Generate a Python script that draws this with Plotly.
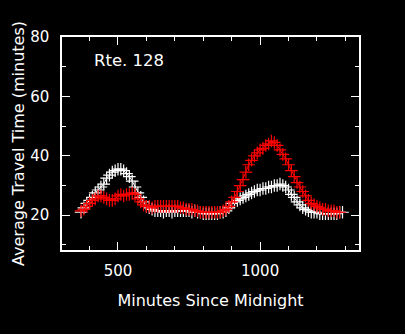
import plotly.graph_objects as go

minutes = list(range(370, 1300, 10))

white_tt = [21, 22.5, 24, 25, 26, 27.5, 28.5, 29.5, 30.5, 32.5,
            33.5, 34.5, 35, 35.5, 35.5, 35, 34, 33, 31.5, 29.5,
            27.5, 26, 24.5, 23, 22.5, 22, 21.5, 21.5, 21.5, 21,
            21.5, 21.5, 21, 21.5, 21.5, 21.5, 21.5, 21.5, 21.5, 21,
            21.5, 21, 21, 20.5, 20.5, 20.5, 20.5, 20.5, 20.5, 21,
            21, 21.5, 22.5, 24, 24.5, 25, 25.5, 26, 26.5, 27,
            27.5, 28, 28.5, 28.5, 29, 29, 29.5, 29.5, 30, 30,
            30.5, 30, 29.5, 28.5, 27, 26, 24.5, 23.5, 22.5, 22,
            21.5, 21, 21, 21, 20.5, 20.5, 20.5, 20.5, 20.5, 20.5,
            20.5, 21, 21]

red_tt = [21.5, 22, 23, 24, 25, 25.5, 26.5, 26.5, 26, 25.5,
          25, 25, 25.5, 26.5, 27, 26.5, 27, 27, 27.5, 27,
          25.5, 24.5, 23.5, 23, 23, 22.5, 23, 23, 23, 23,
          23, 23, 23, 23, 23, 22.5, 22.5, 22, 22, 22,
          21.5, 21.5, 21, 21, 21, 21, 21, 21, 21, 21,
          21.5, 22, 23, 24.5, 26, 28, 30, 32, 34.5, 37,
          38.5, 40, 41, 42, 42.5, 43.5, 44, 45, 44.5, 43.5,
          42, 40.5, 39, 37, 35, 33, 31, 29.5, 28, 26.5,
          25, 24, 23.5, 23, 22.5, 22, 22, 21.5, 21.5, 21.5,
          21, 21]

fig = go.Figure()
fig.add_trace(go.Scatter(x=minutes, y=white_tt, mode="lines+markers",
                         line=dict(color="white", width=1),
                         marker=dict(symbol="cross-thin", size=9,
                                     line=dict(color="white", width=1.2)),
                         showlegend=False))
fig.add_trace(go.Scatter(x=minutes, y=red_tt, mode="lines+markers",
                         line=dict(color="#ff0000", width=1),
                         marker=dict(symbol="cross-thin", size=9,
                                     line=dict(color="#ff0000", width=1.2)),
                         showlegend=False))

font = dict(family="DejaVu Sans", size=15, color="white")
tfont = dict(family="DejaVu Sans", size=16, color="white")
fig.update_layout(
    width=405, height=334,
    paper_bgcolor="black", plot_bgcolor="black",
    margin=dict(l=62, r=46, t=37, b=84),
    font=font,
    xaxis=dict(range=[303, 1348], dtick=500, tick0=0, ticks="inside", ticklen=8,
               tickcolor="white", showline=True, linecolor="white", linewidth=1.5,
               mirror="allticks", showgrid=False, zeroline=False,
               minor=dict(dtick=100, tick0=0, ticks="inside", ticklen=4, tickcolor="white"),
               title=dict(text="Minutes Since Midnight", font=tfont, standoff=16),
               ticklabelstandoff=6),
    yaxis=dict(range=[8.3, 80], dtick=20, tick0=0, ticks="inside", ticklen=8,
               tickcolor="white", showline=True, linecolor="white", linewidth=1.5,
               mirror="allticks", showgrid=False, zeroline=False,
               minor=dict(dtick=10, tick0=0, ticks="inside", ticklen=4, tickcolor="white"),
               title=dict(text="Average Travel Time (minutes)", font=tfont, standoff=2),
               ticklabelstandoff=8),
    annotations=[dict(text="Rte. 128", x=0.1, y=0.89, xref="paper", yref="paper",
                      xanchor="left", yanchor="middle", showarrow=False,
                      font=dict(family="DejaVu Sans", size=16.5, color="white"))],
)

fig.write_html("out.html")
